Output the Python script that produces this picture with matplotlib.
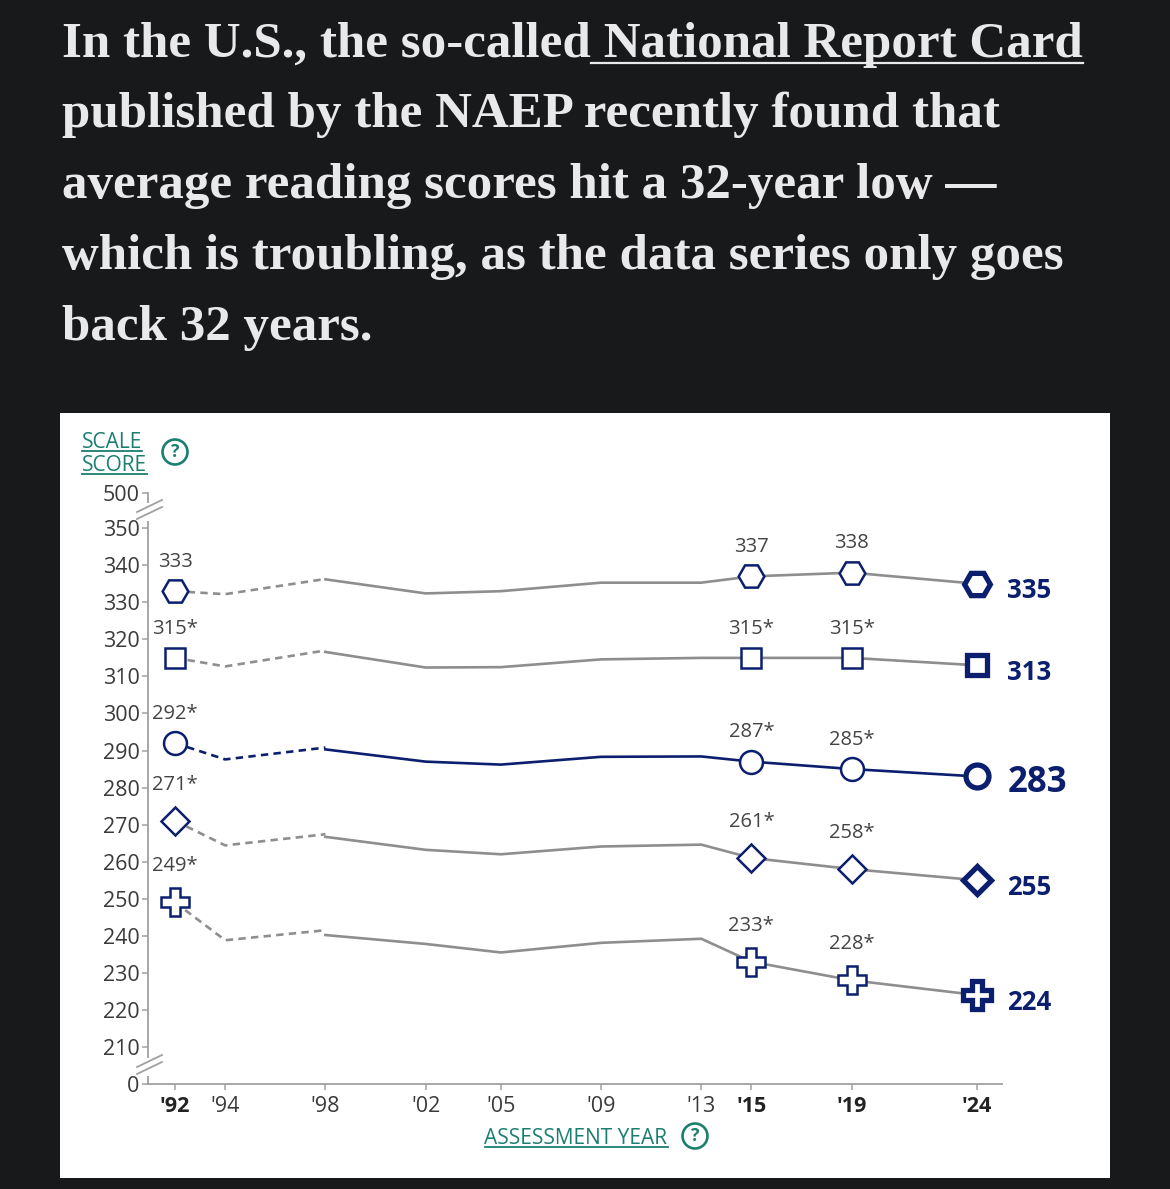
import matplotlib
matplotlib.use('Agg')
import matplotlib.pyplot as plt
from matplotlib.lines import Line2D
from matplotlib.patches import Rectangle

W, H = 1170, 1189

# Assessment years (dashed = accommodations not permitted, solid = permitted)
years_early = [1992, 1994, 1998]
years_late = [1998, 2002, 2005, 2009, 2013, 2015, 2019, 2024]

# Scale scores by percentile
p90_early = [333, 332.2, 336.3]
p90_late = [336.2, 332.4, 333.0, 335.3, 335.3, 337, 338, 335]
p75_early = [315, 312.7, 317.0]
p75_late = [316.6, 312.4, 312.5, 314.6, 315.0, 315, 315, 313]
p50_early = [292, 287.6, 290.8]
p50_late = [290.3, 287.0, 286.2, 288.3, 288.4, 287, 285, 283]
p25_early = [271, 264.4, 267.4]
p25_late = [266.7, 263.2, 262.0, 264.1, 264.6, 261, 258, 255]
p10_early = [249, 238.8, 241.5]
p10_late = [240.2, 237.8, 235.5, 238.1, 239.2, 233, 228, 224]

# asterisk = significantly different from 2024 (order: 90th .. 10th)
sig_1992 = [False, True, True, True, True]
sig_2015 = [False, True, True, True, True]
sig_2019 = [False, True, True, True, True]

xtick_years = [1992, 1994, 1998, 2002, 2005, 2009, 2013, 2015, 2019, 2024]
xtick_labels = ["'92", "'94", "'98", "'02", "'05", "'09", "'13", "'15", "'19", "'24"]
bold_years = [1992, 2015, 2019, 2024]

ytick_values = [200, 210, 220, 230, 240, 250, 260, 270, 280, 290, 300, 310, 320, 330, 340, 350, 359.5]
ytick_labels = ['0', '210', '220', '230', '240', '250', '260', '270', '280', '290',
                '300', '310', '320', '330', '340', '350', '500']

title_lines = [
    "In the U.S., the so-called",
    "published by the NAEP recently found that",
    "average reading scores hit a 32-year low \u2014",
    "which is troubling, as the data series only goes",
    "back 32 years.",
]
title_link = " National Report Card"

NAVY = '#0c1f6f'
GRAY = '#8e8e8e'
TEAL = '#1a7f6e'
TEXT = '#444444'
BG = '#18191b'
SANS = 'Open Sans'
SERIF = 'Liberation Serif'


def fx(px):
    return px / W


def fy(py):
    return 1 - py / H


def underline(fig, renderer, txt, y_px, lw=1.5, color='white'):
    bb = txt.get_window_extent(renderer)
    fig.add_artist(Line2D([bb.x0 / W, bb.x1 / W], [fy(y_px), fy(y_px)],
                          transform=fig.transFigure, color=color, lw=lw))


def help_icon(fig, x_px, y_px):
    fig.text(fx(x_px), fy(y_px), '?', fontsize=12.5, family=SANS, color=TEAL,
             fontweight='bold', ha='center', va='center',
             bbox=dict(boxstyle='circle,pad=0.2', fc='white', ec=TEAL, lw=1.9))


fig = plt.figure(figsize=(W / 100, H / 100), dpi=100, facecolor=BG)
renderer = fig.canvas.get_renderer()

# white chart panel
fig.add_artist(Rectangle((fx(60), fy(1178)), (1110 - 60) / W, (1178 - 413) / H,
                         transform=fig.transFigure, facecolor='white',
                         edgecolor='none', zorder=0))

# headline text, sized so the second line matches the reference width
probe = fig.text(0, 0, title_lines[1], fontsize=30, family=SERIF, fontweight='bold')
title_size = 30 * 935 / probe.get_window_extent(renderer).width
probe.remove()

baselines = [57, 127, 198, 269, 340]
for line, base in zip(title_lines, baselines):
    t = fig.text(fx(62), fy(base), line, fontsize=title_size, family=SERIF,
                 fontweight='bold', color='#e9e9eb', va='baseline')
    if line == title_lines[0]:
        bb = t.get_window_extent(renderer)
        link = fig.text(bb.x1 / W, fy(base), title_link, fontsize=title_size,
                        family=SERIF, fontweight='bold', color='#e9e9eb', va='baseline')
        underline(fig, renderer, link, base + 6, lw=1.6, color='#e9e9eb')

# chart axes
ax = fig.add_axes([fx(148), fy(1084), (1002 - 148) / W, (1084 - 493) / H])
ax.set_xlim(1990.92, 2025.0)
ax.set_ylim(200, 359.5)

series = [
    (p90_early, p90_late, 'H', 18.5, GRAY, 21),
    (p75_early, p75_late, 's', 15, GRAY, 21),
    (p50_early, p50_late, 'o', 16.5, NAVY, 21),
    (p25_early, p25_late, 'D', 14, GRAY, 26),
    (p10_early, p10_late, 'P', 19.5, GRAY, 26),
]

for i, (early, late, marker, ms, lcolor, off) in enumerate(series):
    ax.plot(years_early, early, color=lcolor, lw=1.9, dashes=(2.8, 2.0), zorder=2)
    ax.plot(years_late, late, color=lcolor, lw=1.9, zorder=2)

    pts = [(years_early[0], early[0], sig_1992[i]),
           (years_late[-3], late[-3], sig_2015[i]),
           (years_late[-2], late[-2], sig_2019[i])]
    for x, y, sig in pts:
        ax.plot(x, y, marker=marker, ms=ms, mfc='white', mec=NAVY, mew=1.8,
                zorder=3, clip_on=False)
        ax.annotate(f"{round(y)}" + ('*' if sig else ''), (x, y),
                    xytext=(0, off), textcoords='offset points',
                    ha='center', va='center', fontsize=14.5, family=SANS, color=TEXT)

    x, y = years_late[-1], late[-1]
    ax.plot(x, y, marker=marker, ms=ms, mfc='white', mec=NAVY, mew=3.8,
            zorder=3, clip_on=False)
    big = marker == 'o'
    ax.annotate(f"{round(y)}", (x, y), xytext=(22, -5), textcoords='offset points',
                ha='left', va='center', fontsize=25 if big else 18.5,
                fontweight='bold', family=SANS, color=NAVY)

# axes styling
for side in ['top', 'right']:
    ax.spines[side].set_visible(False)
for side in ['left', 'bottom']:
    ax.spines[side].set_color('#a0a0a0')
    ax.spines[side].set_linewidth(1.3)

ax.set_yticks(ytick_values)
ax.set_yticklabels(ytick_labels)
ax.set_xticks(xtick_years)
ax.set_xticklabels(xtick_labels)
ax.tick_params(axis='both', colors='#a0a0a0', length=4.5, width=1.1,
               labelcolor='#3a3a3a', labelsize=15.5, pad=1.5)
for lab in ax.get_yticklabels():
    lab.set_family(SANS)
for lab, yr in zip(ax.get_xticklabels(), xtick_years):
    lab.set_family(SANS)
    if yr in bold_years:
        lab.set_fontweight('bold')
        lab.set_color('#222222')
ax.tick_params(axis='x', pad=4)

# axis break marks (top between 500 and 350, bottom between 210 and 0)
ax_w, ax_h = 1002 - 148, 1084 - 493
for cy in [(1084 - 511) / ax_h, (1084 - 1066) / ax_h]:
    ax.plot([0, 0], [cy - 10 / ax_h, cy + 8 / ax_h], transform=ax.transAxes,
            color='white', lw=4, clip_on=False, zorder=4, solid_capstyle='butt')
    for dy in [0, -7]:
        ax.plot([-11 / ax_w, 14 / ax_w], [cy + (dy - 1) / ax_h, cy + (dy + 11) / ax_h],
                transform=ax.transAxes, color='#a0a0a0', lw=1.3, clip_on=False, zorder=5)

# axis titles with help icons
for word, base in [('SCALE', 448), ('SCORE', 471)]:
    t = fig.text(fx(82), fy(base), word, fontsize=15, family=SANS, color=TEAL,
                 va='baseline')
    underline(fig, renderer, t, base + 3, lw=1.3, color=TEAL)
help_icon(fig, 175, 452)

xl = fig.text(fx(576), fy(1144), 'ASSESSMENT YEAR', fontsize=15, family=SANS,
              color=TEAL, ha='center', va='baseline')
underline(fig, renderer, xl, 1147, lw=1.3, color=TEAL)
help_icon(fig, 695, 1136)

fig.savefig('out.png', dpi=100, facecolor=BG)
